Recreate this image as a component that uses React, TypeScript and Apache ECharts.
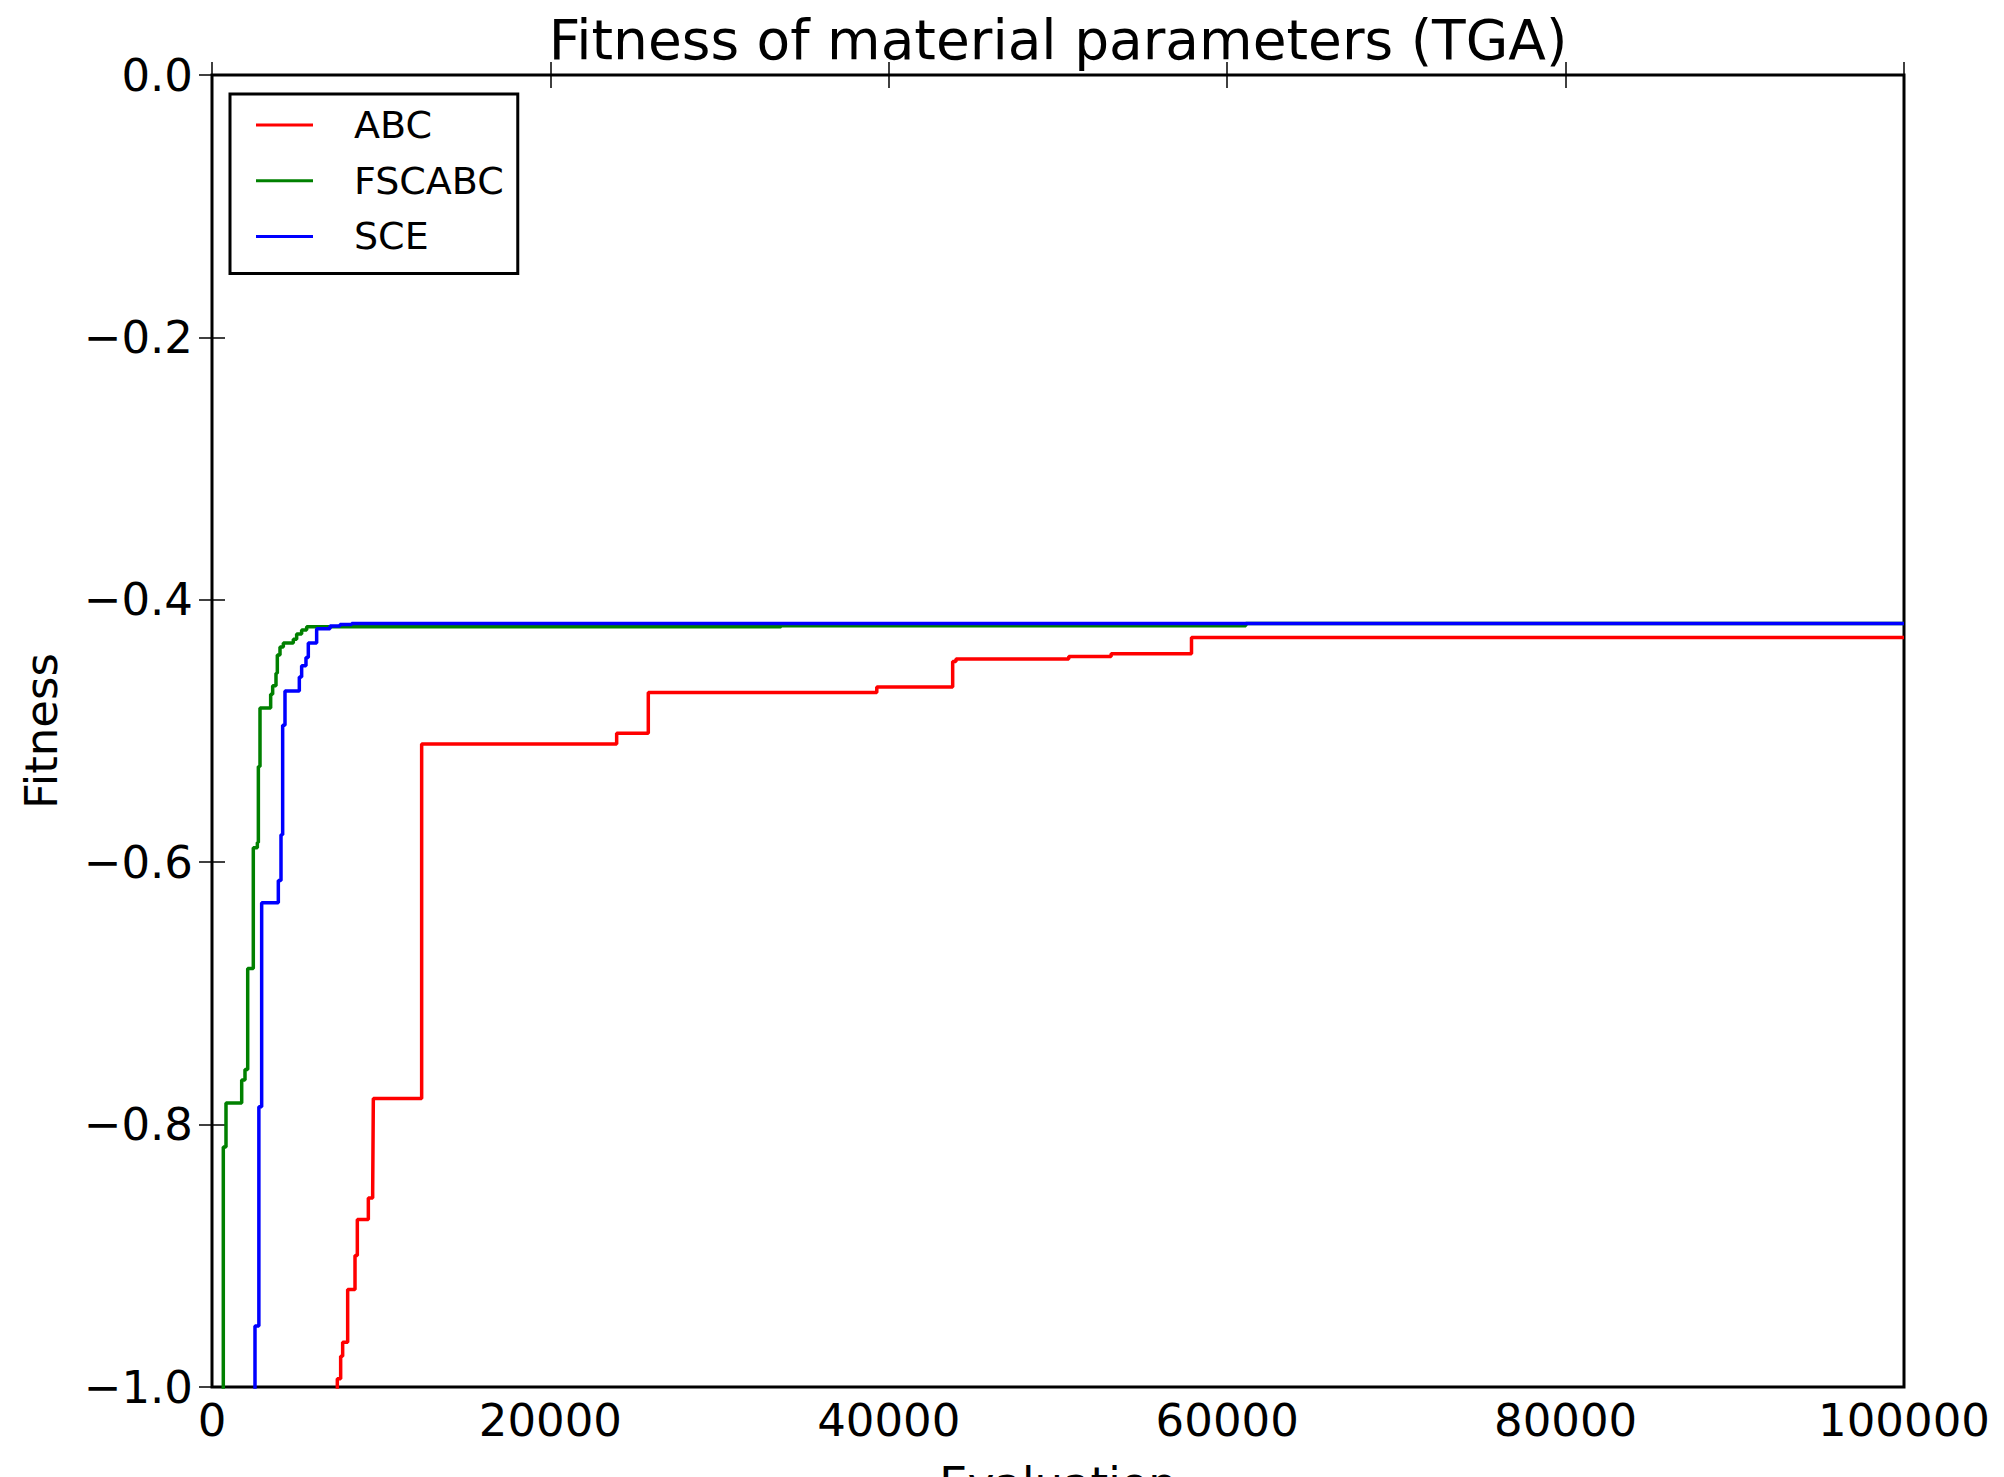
import React, { useEffect, useRef } from "react";
import * as echarts from "echarts";

// Best-so-far fitness per evaluation: each pair is [evaluation, fitness],
// the value holds until the next evaluation listed.
const seriesNames = ["ABC", "FSCABC", "SCE"];
const seriesColors = ["#ff0000", "#008000", "#0000ff"];

const abcData: [number, number][] = [
  [0, -1.5],
  [7407, -0.9937],
  [7604, -0.9765],
  [7722, -0.9658],
  [8018, -0.9257],
  [8452, -0.8998],
  [8589, -0.8724],
  [9240, -0.8559],
  [9496, -0.8516],
  [9535, -0.7801],
  [12391, -0.5099],
  [23916, -0.5018],
  [25786, -0.4706],
  [39290, -0.4665],
  [43775, -0.447],
  [43970, -0.4452],
  [50635, -0.4432],
  [53140, -0.4411],
  [57890, -0.4287],
  [100000, -0.4287],
];

const fscabcData: [number, number][] = [
  [0, -1.5],
  [668, -0.817],
  [827, -0.7835],
  [1755, -0.766],
  [1950, -0.758],
  [2110, -0.681],
  [2441, -0.589],
  [2680, -0.585],
  [2740, -0.527],
  [2837, -0.4825],
  [3467, -0.472],
  [3585, -0.4655],
  [3782, -0.456],
  [3861, -0.442],
  [4019, -0.436],
  [4216, -0.433],
  [4806, -0.43],
  [5003, -0.426],
  [5298, -0.423],
  [5594, -0.4205],
  [33630, -0.4197],
  [61100, -0.4181],
  [100000, -0.4181],
];

const sceData: [number, number][] = [
  [0, -1.5],
  [2541, -0.9536],
  [2770, -0.7863],
  [2935, -0.631],
  [3920, -0.614],
  [4078, -0.579],
  [4176, -0.4957],
  [4314, -0.4695],
  [5161, -0.4588],
  [5298, -0.4502],
  [5554, -0.444],
  [5692, -0.433],
  [6185, -0.422],
  [6974, -0.42],
  [7565, -0.4188],
  [8255, -0.418],
  [100000, -0.418],
];

const xTicks = [0, 20000, 40000, 60000, 80000, 100000];
const yTicks = [-1.0, -0.8, -0.6, -0.4, -0.2, 0.0];

const FONT = "DejaVu Sans";

function fmtY(v: number): string {
  return v.toFixed(1).replace("-", "\u2212");
}

export default function App() {
  const ref = useRef<HTMLDivElement>(null);

  useEffect(() => {
    if (!ref.current) return;
    const chart = echarts.init(ref.current, null, {
      renderer: "svg",
      width: 2004,
      height: 1477,
    });

    const xMin = xTicks[0];
    const xMax = xTicks[xTicks.length - 1];
    const xStep = xTicks[1] - xTicks[0];
    const yMin = yTicks[0];
    const yMax = yTicks[yTicks.length - 1];
    const yStep = +(yTicks[1] - yTicks[0]).toFixed(6);

    const tick = {
      show: true,
      inside: true,
      length: 13,
      lineStyle: { color: "#000", width: 1.5 },
    };

    const xBase = {
      type: "value" as const,
      min: xMin,
      max: xMax,
      interval: xStep,
      splitLine: { show: false },
      axisLine: { show: false },
      axisTick: tick,
    };
    const yBase = {
      type: "value" as const,
      min: yMin,
      max: yMax,
      interval: yStep,
      splitLine: { show: false },
      axisLine: { show: false },
      axisTick: tick,
    };

    const all = [abcData, fscabcData, sceData];

    chart.setOption({
      animation: false,
      backgroundColor: "#ffffff",
      textStyle: { fontFamily: FONT },
      title: {
        text: "Fitness of material parameters (TGA)",
        left: 1058,
        top: 12,
        padding: 0,
        textAlign: "center",
        textStyle: {
          fontFamily: FONT,
          fontSize: 55,
          fontWeight: "normal",
          color: "#000",
        },
      },
      legend: {
        orient: "vertical",
        left: 230,
        top: 94,
        padding: [12, 14, 18, 26],
        itemGap: 17.7,
        itemWidth: 57,
        itemHeight: 3,
        icon: "rect",
        borderColor: "#000",
        borderWidth: 3,
        borderRadius: 0,
        backgroundColor: "#fff",
        data: seriesNames,
        textStyle: {
          fontFamily: FONT,
          fontSize: 38,
          color: "#000",
          padding: [0, 0, 0, 36],
        },
      },
      grid: {
        left: 212,
        top: 75,
        width: 1692,
        height: 1312,
        show: true,
        borderColor: "#000",
        borderWidth: 3,
        backgroundColor: "transparent",
        containLabel: false,
        outerBoundsMode: "none",
      },
      xAxis: [
        {
          ...xBase,
          position: "bottom",
          name: "Evaluation",
          nameLocation: "middle",
          nameGap: 74,
          nameTextStyle: { fontFamily: FONT, fontSize: 45, color: "#000" },
          axisLabel: {
            fontFamily: FONT,
            fontSize: 45,
            color: "#000",
            margin: 11,
            formatter: (v: number) => String(v),
          },
        },
        {
          ...xBase,
          position: "top",
          axisLabel: { show: false },
        },
      ],
      yAxis: [
        {
          ...yBase,
          position: "left",
          name: "Fitness",
          nameLocation: "middle",
          nameGap: 148,
          nameTextStyle: { fontFamily: FONT, fontSize: 45, color: "#000" },
          axisLabel: {
            fontFamily: FONT,
            fontSize: 45,
            color: "#000",
            margin: 19,
            formatter: (v: number) => fmtY(v),
          },
        },
        {
          ...yBase,
          position: "right",
          axisLabel: { show: false },
        },
      ],
      series: seriesNames.map((name, i) => ({
        name,
        type: "line",
        step: "end",
        xAxisIndex: 0,
        yAxisIndex: 0,
        symbol: "none",
        showSymbol: false,
        clip: true,
        data: all[i],
        color: seriesColors[i],
        itemStyle: { color: seriesColors[i] },
        lineStyle: { color: seriesColors[i], width: 3.5 },
        z: 2 + i,
      })),
    });

    return () => chart.dispose();
  }, []);

  return (
    <div
      ref={ref}
      style={{
        position: "absolute",
        left: 0,
        top: 0,
        width: 2004,
        height: 1477,
        overflow: "hidden",
        background: "#fff",
      }}
    />
  );
}
